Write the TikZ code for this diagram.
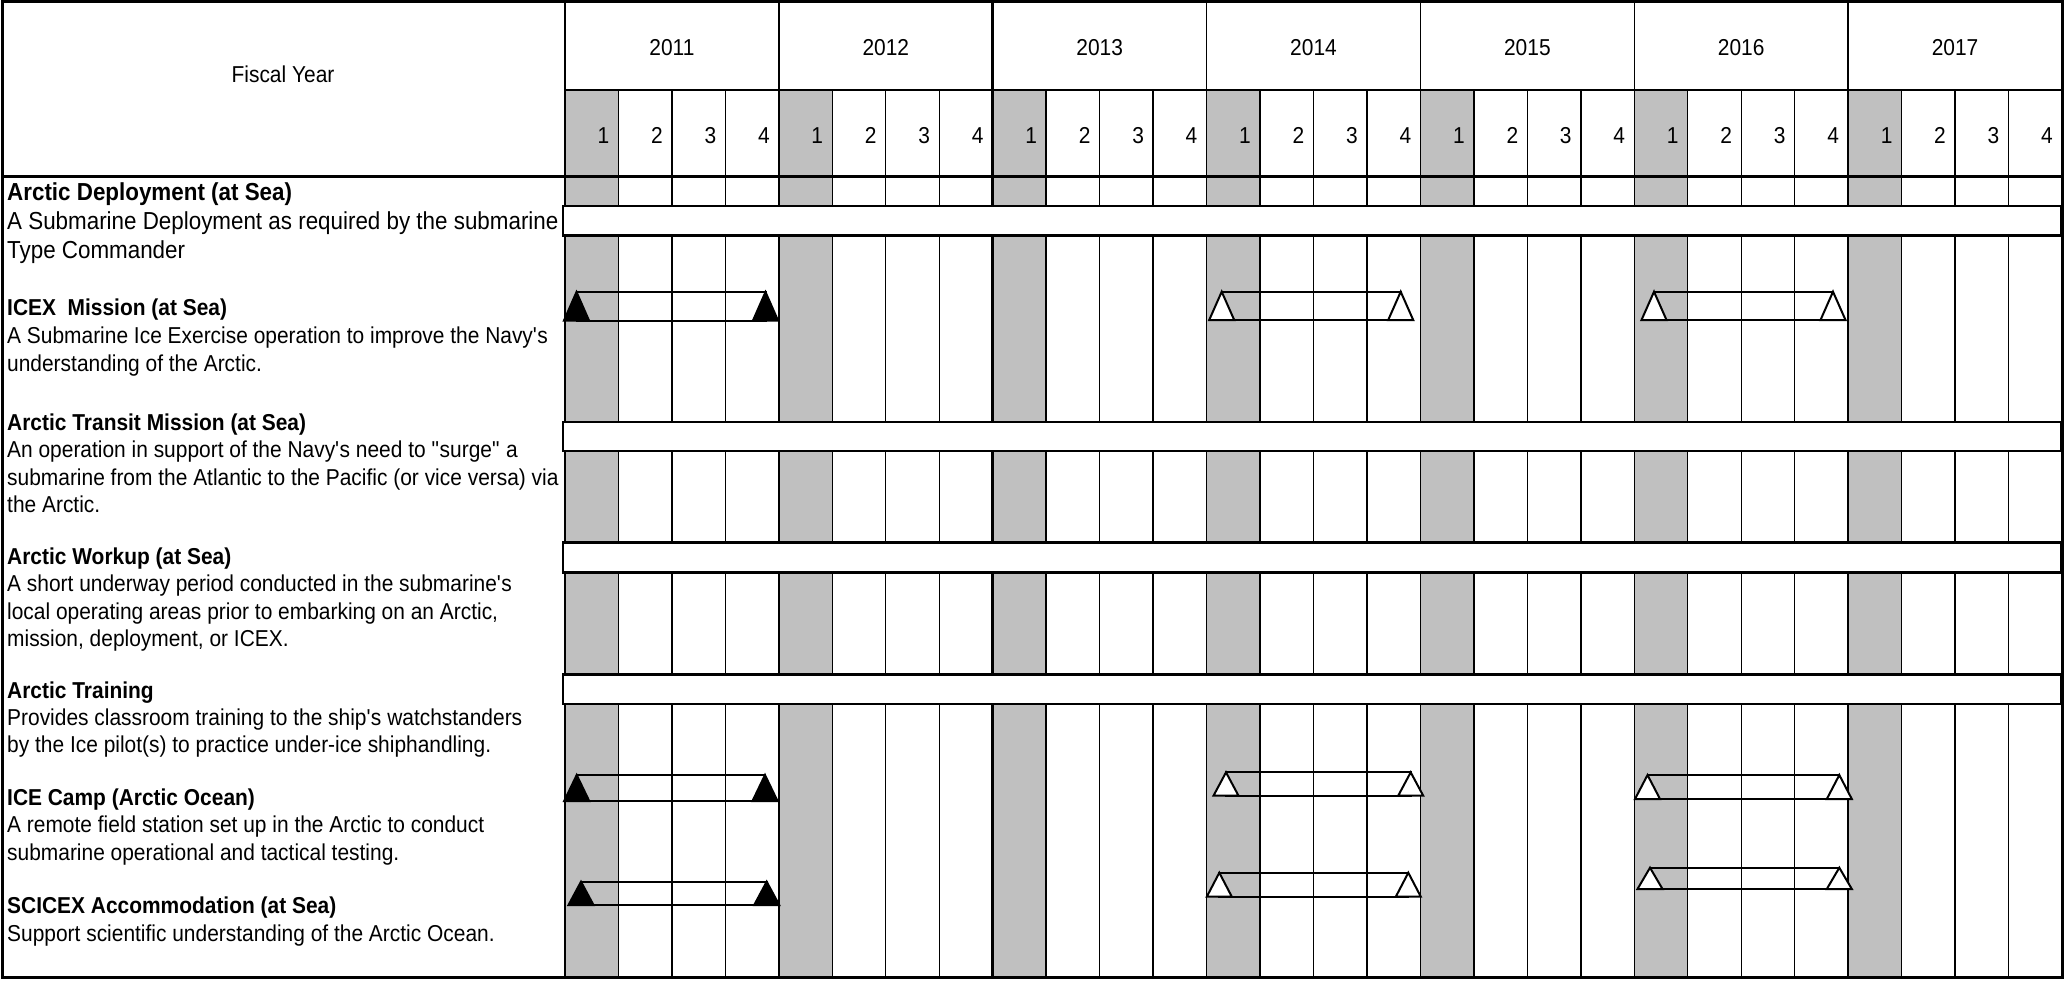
\documentclass[tikz,border=0pt]{standalone}
\usepackage{fontspec}
\setmainfont{Liberation Sans}[FakeStretch=0.91]
\definecolor{qgray}{HTML}{C0C0C0}
\newcommand\mstone[5]{%
  \draw[msbar] (#1,#3) rectangle (#2,#4);
  \draw[mstri,fill=#5] (#1,#3) -- ({#1-12.5},#4) -- ({#1+12.5},#4) -- cycle;
  \draw[mstri,fill=#5] (#2,#3) -- ({#2-12.5},#4) -- ({#2+12.5},#4) -- cycle;}
\begin{document}
\begin{tikzpicture}[x=1pt,y=-1pt,
  gridline/.style={line width=1.4pt,draw=black},
  heavyline/.style={line width=3pt,draw=black},
  fullbar/.style={line width=2.8pt,draw=black,fill=white},
  msbar/.style={line width=2pt,draw=black},
  mstri/.style={line width=2pt,draw=black,line join=miter},
  txt/.style={anchor=base west,inner sep=0pt,font=\fontsize{23}{27.6}\selectfont},
  ttl/.style={anchor=base west,inner sep=0pt,font=\fontsize{23}{27.6}\selectfont\bfseries},
  bigtxt/.style={anchor=base west,inner sep=0pt,font=\fontsize{24.6}{29}\selectfont},
  bigttl/.style={anchor=base west,inner sep=0pt,font=\fontsize{24.6}{29}\selectfont\bfseries},
  hdr/.style={anchor=base,inner sep=0pt,font=\fontsize{23}{27.6}\selectfont},
  qnum/.style={anchor=base east,inner sep=0pt,font=\fontsize{23}{27.6}\selectfont}]
\useasboundingbox (0,0) rectangle (2069,984);
\fill[white] (0,0) rectangle (2069,984);
% gray first-quarter columns
\foreach \i in {0,...,6}{
  \fill[qgray] ({565+\i*213.857},90) rectangle ({565+\i*213.857+53.464},977);
}
% grid lines
\foreach \k in {1,...,27}{
  \pgfmathsetmacro\xx{565+\k*53.464}
  \pgfmathtruncatemacro\m{mod(\k,4)}
  \ifnum\m=0
    \draw[gridline] (\xx,2) -- (\xx,977);
  \else
    \draw[gridline] (\xx,90) -- (\xx,977);
  \fi
}
\draw[heavyline] ({565+8*53.464},2) -- ({565+8*53.464},977);
\draw[gridline] (565,90) -- (2062,90);
\draw[line width=2.5pt] (565,2) -- (565,977);
\draw[heavyline] (2,177) -- (2062,177);
\draw[heavyline] (2,2) rectangle (2062,977);
% header texts
\node[hdr] (fy) at (283,83) {Fiscal Year};
\foreach \yr [count=\i from 0] in {2011,...,2017}{
  \node[hdr] (yr\yr) at ({565+\i*213.857+106.93},55.5) {\yr};
}
\foreach \k in {0,...,27}{
  \pgfmathtruncatemacro\q{mod(\k,4)+1}
  \node[qnum] (q\k) at ({565+(\k+1)*53.464-9},143.5) {\q};
}
% full-width bars
\draw[fullbar] (563,206) rectangle (2061,235.3);
\draw[fullbar] (563,422) rectangle (2061,451);
\draw[fullbar] (563,542.3) rectangle (2061,572.7);
\draw[fullbar] (563,674.5) rectangle (2061,704);
% milestone bars
\mstone{576.5}{765.5}{292}{320.5}{black}
\mstone{1221.7}{1400.7}{291.7}{320}{white}
\mstone{1654}{1833}{291.7}{320}{white}
\mstone{576.7}{765}{775}{801}{black}
\mstone{1226}{1410.7}{772.3}{795.7}{white}
\mstone{1647.5}{1839.3}{775}{799}{white}
\mstone{581}{766.7}{881.7}{905}{black}
\mstone{1219.3}{1408.3}{872.7}{896.7}{white}
\mstone{1650}{1839.3}{867.7}{889}{white}
% row labels
\node[bigttl] (t1) at (7,201) {Arctic Deployment (at Sea)};
\node[bigtxt] (t1a) at (7,230) {A Submarine Deployment as required by the submarine};
\node[bigtxt] (t1b) at (7,259) {Type Commander};
\node[ttl] (t2) at (7,316) {ICEX~~Mission (at Sea)};
\node[txt] (t2a) at (7,343.5) {A Submarine Ice Exercise operation to improve the Navy\textquotesingle s};
\node[txt] (t2b) at (7,371.5) {understanding of the Arctic.};
\node[ttl] (t3) at (7,430) {Arctic Transit Mission (at Sea)};
\node[txt] (t3a) at (7,457.5) {An operation in support of the Navy\textquotesingle s need to \textquotedbl surge\textquotedbl\ a};
\node[txt] (t3b) at (7,485) {submarine from the Atlantic to the Pacific (or vice versa) via};
\node[txt] (t3c) at (7,512.7) {the Arctic.};
\node[ttl] (t4) at (7,564) {Arctic Workup (at Sea)};
\node[txt] (t4a) at (7,591.7) {A short underway period conducted in the submarine\textquotesingle s};
\node[txt] (t4b) at (7,619.3) {local operating areas prior to embarking on an Arctic,};
\node[txt] (t4c) at (7,646.7) {mission, deployment, or ICEX.};
\node[ttl] (t5) at (7,698) {Arctic Training};
\node[txt] (t5a) at (7,725) {Provides classroom training to the ship\textquotesingle s watchstanders};
\node[txt] (t5b) at (7,752.7) {by the Ice pilot(s) to practice under-ice shiphandling.};
\node[ttl] (t6) at (7,805) {ICE Camp (Arctic Ocean)};
\node[txt] (t6a) at (7,832) {A remote field station set up in the Arctic to conduct};
\node[txt] (t6b) at (7,860) {submarine operational and tactical testing.};
\node[ttl] (t7) at (7,913.3) {SCICEX Accommodation (at Sea)};
\node[txt] (t7a) at (7,941) {Support scientific understanding of the Arctic Ocean.};
\end{tikzpicture}
\end{document}
